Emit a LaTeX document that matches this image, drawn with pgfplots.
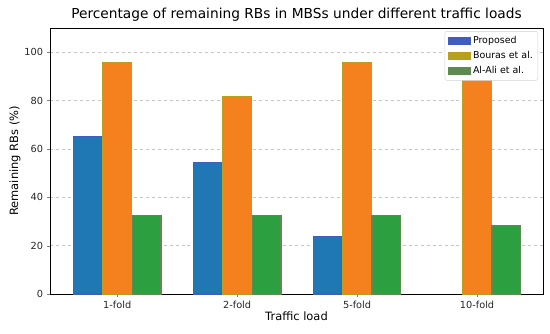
\documentclass[border=0pt]{standalone}
\usepackage{pgfplots}
\pgfplotsset{compat=1.18}
\usepackage{fontspec}
\setmainfont{DejaVu Sans}
\definecolor{pfill}{HTML}{1F77B4}
\definecolor{pedge}{HTML}{3F5EC0}
\definecolor{ofill}{HTML}{F5801E}
\definecolor{oedge}{HTML}{B9A01C}
\definecolor{gfill}{HTML}{2CA040}
\definecolor{gedge}{HTML}{5C8A50}
\begin{document}
\begin{tikzpicture}[x=1bp,y=1bp]
\path (0,0) rectangle (550,333);
\begin{axis}[
  at={(50bp,39bp)}, anchor=south west,
  scale only axis, width=493bp, height=266bp,
  xmin=-0.56, xmax=3.55, ymin=0, ymax=110,
  xtick={0,1,2,3}, xticklabels={1-fold,2-fold,5-fold,10-fold},
  ytick={0,20,40,60,80,100},
  tick align=outside, tick pos=left,
  major tick length=3.5pt,
  ymajorgrids, grid style={dashed, gray!45, line width=0.5pt},
  axis line style={black, line width=0.8pt},
  ticklabel style={font=\fontsize{9.8}{11}\selectfont, text=black!85},
  /pgf/number format/assume math mode=true,
  xlabel={Traffic load}, ylabel={Remaining RBs (\%)},
  label style={font=\fontsize{11.5}{13}\selectfont},
  xlabel style={yshift=4pt},
  ylabel style={yshift=-3pt},
  title={Percentage of remaining RBs in MBSs under different traffic loads},
  title style={font=\fontsize{13.8}{15}\selectfont, yshift=-3pt},
  legend style={at={(0.99,0.988)}, anchor=north east, font=\fontsize{9.5}{11}\selectfont,
    draw=gray!35, rounded corners=2pt, fill=white, row sep=2.5pt, inner sep=3pt},
  legend cell align=left,
]
\addplot[ybar, bar width=0.24, bar shift=-0.245, fill=pfill, draw=pedge, line width=1.2pt, legend image code/.code={\fill[pedge, sharp corners] (0pt,-3.5pt) rectangle (22pt,3.5pt);}]
  coordinates {(0,65) (1,54.3) (2,23.9)};
\addplot[ybar, bar width=0.24, bar shift=0, fill=ofill, draw=oedge, line width=1.2pt, legend image code/.code={\fill[oedge, sharp corners] (0pt,-3.5pt) rectangle (22pt,3.5pt);}]
  coordinates {(0,95.5) (1,81.5) (2,95.5) (3,90)};
\addplot[ybar, bar width=0.24, bar shift=0.245, fill=gfill, draw=gedge, line width=1.2pt, legend image code/.code={\fill[gedge, sharp corners] (0pt,-3.5pt) rectangle (22pt,3.5pt);}]
  coordinates {(0,32.6) (1,32.6) (2,32.6) (3,28.4)};
\legend{Proposed, Bouras et al., Al-Ali et al.}
\end{axis}
\end{tikzpicture}
\end{document}
